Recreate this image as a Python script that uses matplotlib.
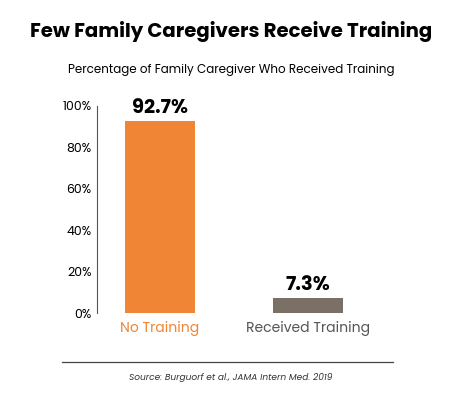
import matplotlib.pyplot as plt
from matplotlib.ticker import PercentFormatter

categories = ["No Training", "Received Training"]
values = [92.7, 7.3]
bar_colors = ["#EF8535", "#7B7065"]
label_colors = ["#EF8535", "#555555"]
yticks = [0, 20, 40, 60, 80, 100]

plt.rcParams['font.family'] = ['Poppins', 'Inter', 'DejaVu Sans']

fig = plt.figure(figsize=(4.62, 4.01), dpi=100)
ax = fig.add_axes([97 / 462, 1 - 313 / 401, 303 / 462, 207 / 401])

x = range(len(categories))
ax.bar(x, values, width=0.47, color=bar_colors)
for i, v in enumerate(values):
    ax.text(i, v + 1.5, f"{v}%", ha="center", va="bottom",
            fontsize=14, fontweight="bold", color="black")

ax.set_xlim(-0.426, 1.62)
ax.set_ylim(0, 100)
ax.set_yticks(yticks)
ax.yaxis.set_major_formatter(PercentFormatter(decimals=0))
ax.tick_params(axis="y", labelsize=9, length=0, pad=4)
ax.set_xticks(list(x))
ax.set_xticklabels(categories, fontsize=10)
for lbl, c in zip(ax.get_xticklabels(), label_colors):
    lbl.set_color(c)
ax.tick_params(axis="x", length=0, pad=6)
for s in ["top", "right", "bottom"]:
    ax.spines[s].set_visible(False)
ax.spines["left"].set_color("#555555")
ax.spines["left"].set_linewidth(0.8)

fig.text(0.5, 1 - 32 / 401, "Few Family Caregivers Receive Training",
         ha="center", va="center", fontsize=14.2, fontweight="bold")
fig.text(0.5, 1 - 70 / 401, "Percentage of Family Caregiver Who Received Training",
         ha="center", va="center", fontsize=8.6)
fig.add_artist(plt.Line2D([62 / 462, 393 / 462], [1 - 362 / 401] * 2,
                          color="#444444", linewidth=0.9))
fig.text(0.5, 1 - 378 / 401, "Source: Burguorf et al., JAMA Intern Med. 2019",
         ha="center", va="center", fontsize=6.5, style="italic", color="#333333")

fig.savefig("out.png", dpi=100)
